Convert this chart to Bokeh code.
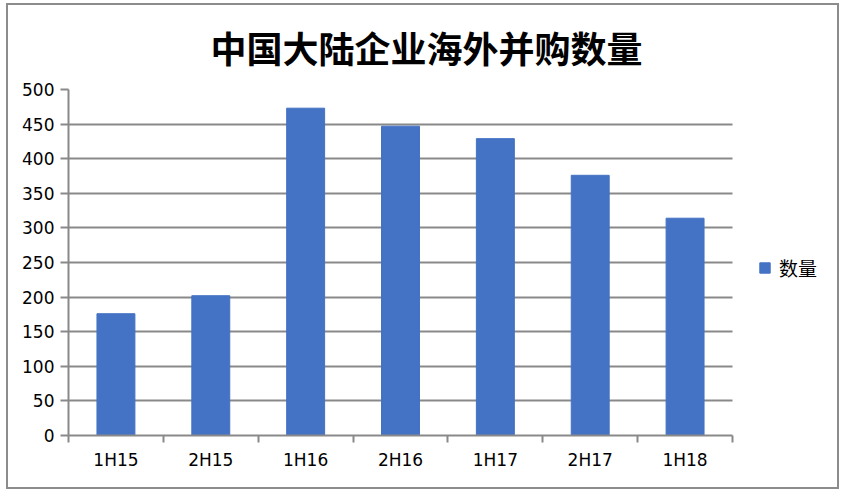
from bokeh.plotting import figure
from bokeh.models import (ColumnDataSource, FixedTicker, Legend, LegendItem,
                          Range1d)
from bokeh.embed import file_html
from bokeh.resources import INLINE

# data
periods = ["1H15", "2H15", "1H16", "2H16", "1H17", "2H17", "1H18"]
counts = [176, 202, 473, 447, 429, 376, 314]
y_ticks = list(range(0, 501, 50))

GRAY = "#898989"
BLUE = "#4472C4"
TICK_FONT = "DejaVu Sans"
CJK_FONT = "Noto Sans CJK SC"

n = len(periods)
centers = [i + 0.5 for i in range(n)]
src = ColumnDataSource(data=dict(x=centers, count=counts, period=periods))

# the frame runs on under the legend; bars use the first 664 px of it
W, H = 833, 486
frame_px = W - 60 - 4
x_end = n * frame_px / 664

p = figure(width=W, height=H, output_backend="svg", toolbar_location=None,
           x_range=Range1d(0, x_end), y_range=Range1d(0, 500),
           title="中国大陆企业海外并购数量")
p.min_border_left = 60
p.min_border_right = 4
p.min_border_top = 84
p.min_border_bottom = 56
p.outline_line_color = None
p.styles = {"border": "2px solid #8c8c8c", "box-sizing": "border-box",
            "margin": "3px 0 0 6px"}

p.title.text_font = CJK_FONT
p.title.text_font_size = "36px"
p.title.text_font_style = "bold"
p.title.text_color = "#000000"
p.title.align = "left"
p.title.vertical_align = "top"
p.title.offset = 142
p.title.standoff = 30

r = p.vbar(x="x", top="count", width=0.4, color=BLUE, source=src)

# x axis: labels at the centres, tick marks between categories
xa = p.xaxis[0]
xa.bounds = (0, n)
xa.ticker = FixedTicker(ticks=centers, minor_ticks=list(range(n + 1)))
xa.major_label_overrides = {c: lab for c, lab in zip(centers, periods)}
xa.major_tick_line_color = None
xa.minor_tick_line_color = GRAY
xa.minor_tick_line_width = 2
xa.minor_tick_in = 0
xa.minor_tick_out = 7
xa.axis_line_color = GRAY
xa.axis_line_width = 2
xa.major_label_text_font = TICK_FONT
xa.major_label_text_font_size = "17px"
xa.major_label_text_color = "#000000"
xa.major_label_standoff = 7

ya = p.yaxis[0]
ya.ticker = FixedTicker(ticks=y_ticks)
ya.axis_line_color = GRAY
ya.axis_line_width = 2
ya.major_tick_line_color = GRAY
ya.major_tick_line_width = 2
ya.major_tick_in = 0
ya.major_tick_out = 8
ya.minor_tick_line_color = None
ya.major_label_text_font = TICK_FONT
ya.major_label_text_font_size = "17px"
ya.major_label_text_color = "#000000"
ya.major_label_standoff = 6

p.xgrid.grid_line_color = None
p.ygrid.ticker = FixedTicker(ticks=y_ticks)
p.ygrid.cross_bounds = (0, n)
p.ygrid.grid_line_color = GRAY
p.ygrid.grid_line_width = 2

legend = Legend(items=[LegendItem(label="数量", renderers=[r])],
                location=(690, 154), orientation="vertical")
legend.label_text_font = CJK_FONT
legend.label_text_font_size = "19px"
legend.label_text_color = "#000000"
legend.glyph_width = 13
legend.glyph_height = 13
legend.label_standoff = 8
legend.padding = 0
legend.margin = 0
legend.border_line_color = None
legend.background_fill_alpha = 0
p.add_layout(legend, "center")

open("out.html", "w").write(file_html(p, INLINE))
